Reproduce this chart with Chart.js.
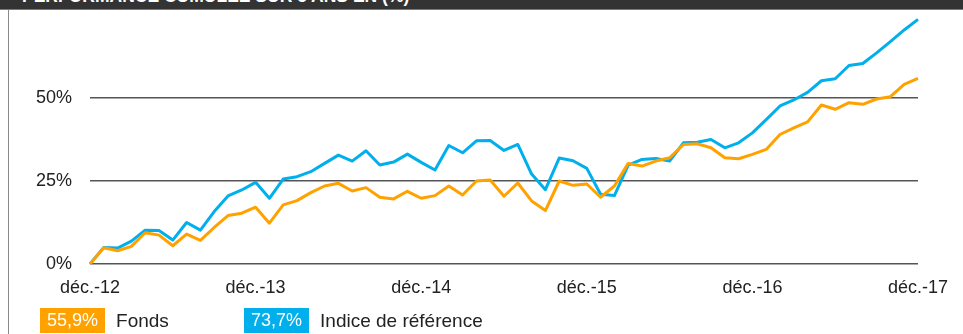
<!DOCTYPE html>
<html lang="fr">
<head>
<meta charset="utf-8">
<title>Performance cumulée sur 5 ans</title>
<script src="https://cdn.jsdelivr.net/npm/chart.js@4.4.1/dist/chart.umd.min.js"></script>
<style>
  html, body { margin: 0; padding: 0; background: #fff; }
  #wrap { position: relative; width: 963px; height: 334px; overflow: hidden; font-family: "Liberation Sans", Arial, sans-serif; }
  #head { position: absolute; left: 0; top: 0; width: 963px; height: 9px; background: #333; overflow: hidden; }
  #head span { position: absolute; left: 22px; top: -12px; line-height: 17px; font-size: 17.5px; font-weight: bold; color: #fff; white-space: nowrap; }
  #headLine { position: absolute; left: 0; top: 9px; width: 963px; height: 1px; background: #7a7a7a; }
  #leftLine { position: absolute; left: 8px; top: 10px; width: 1px; height: 324px; background: #8a8a8a; }
  #chart { position: absolute; left: 0; top: 0; }
  .leg { position: absolute; top: 308px; height: 25px; font-size: 18px; color: #222; }
  .leg b { display: inline-block; height: 25px; line-height: 25px; padding: 0 7px 0 7px; font-weight: normal; color: #fff; vertical-align: top; }
  .leg i { font-style: normal; font-size: 19px; line-height: 25px; margin-left: 11px; vertical-align: top; }
</style>
</head>
<body>
<div id="wrap">
  <canvas id="chart" width="963" height="334"></canvas>
  <div id="head"><span>PERFORMANCE CUMULÉE SUR 5 ANS EN (%)</span></div>
  <div id="headLine"></div>
  <div id="leftLine"></div>
  <div class="leg" id="legFonds" style="left:40px"></div>
  <div class="leg" id="legIndice" style="left:244px"></div>
</div>
<script>
// cumulative performance in %, one point per month, déc. 2012 -> déc. 2017
var fonds = [
  0, 4.9, 4.0, 5.3, 9.4, 8.7, 5.5, 9.0, 7.1, 11.0,
  14.6, 15.3, 17.1, 12.3, 17.8, 19.1, 21.5, 23.5, 24.3, 22.0,
  23.0, 20.1, 19.6, 21.9, 19.8, 20.6, 23.5, 20.8, 25.0, 25.3,
  20.4, 24.4, 19.0, 16.1, 25.0, 23.7, 24.1, 20.1, 23.5, 30.3,
  29.5, 31.0, 32.0, 36.0, 36.2, 35.0, 32.0, 31.7, 33.0, 34.5,
  39.0, 41.0, 42.8, 47.9, 46.6, 48.6, 48.1, 49.7, 50.4, 54.1,
  55.9
];
var indice = [
  0, 5.0, 4.8, 6.9, 10.2, 10.1, 7.2, 12.5, 10.2, 15.8,
  20.5, 22.3, 24.6, 19.8, 25.6, 26.3, 27.8, 30.3, 32.8, 31.0,
  34.1, 29.8, 30.7, 33.1, 30.6, 28.3, 35.7, 33.5, 37.1, 37.2,
  34.2, 36.0, 27.1, 22.4, 31.9, 31.1, 28.8, 21.0, 20.6, 29.8,
  31.5, 31.8, 31.0, 36.5, 36.7, 37.5, 35.0, 36.5, 39.5, 43.5,
  47.6, 49.4, 51.7, 55.2, 55.8, 59.8, 60.4, 63.6, 67.0, 70.5,
  73.7
];
var seriesNames = ['Fonds', 'Indice de référence'];
var seriesColors = ['#FFA200', '#00AFEC'];
var monthNames = ['janv.', 'févr.', 'mars', 'avr.', 'mai', 'juin', 'juil.', 'août', 'sept.', 'oct.', 'nov.', 'déc.'];
var yTicks = [0, 25, 50];

// month labels starting at déc.-12
var months = [];
for (var i = 0; i < fonds.length; i++) {
  var m = (11 + i) % 12;
  var yr = 12 + Math.floor((11 + i) / 12);
  months.push(monthNames[m] + '-' + yr);
}

function pct(v) {
  return v.toFixed(1).replace('.', ',') + '%';
}

// legend boxes show the last value of each series
var legIds = ['legFonds', 'legIndice'];
[fonds, indice].forEach(function (s, k) {
  var el = document.getElementById(legIds[k]);
  el.innerHTML = '<b style="background:' + seriesColors[k] + '">' + pct(s[s.length - 1]) + '</b><i>' + seriesNames[k] + '</i>';
});

var font = { family: '"Liberation Sans", Arial, sans-serif', size: 18 };

new Chart(document.getElementById('chart'), {
  type: 'line',
  data: {
    labels: months,
    datasets: [{
      label: seriesNames[0],
      data: fonds,
      borderColor: seriesColors[0],
      borderWidth: 3,
      pointRadius: 0,
      tension: 0,
      borderJoinStyle: 'round',
      fill: false
    }, {
      label: seriesNames[1],
      data: indice,
      borderColor: seriesColors[1],
      borderWidth: 3,
      pointRadius: 0,
      tension: 0,
      borderJoinStyle: 'round',
      fill: false
    }]
  },
  options: {
    responsive: false,
    animation: false,
    layout: { padding: { left: 0, right: 45, top: 15, bottom: 0 } },
    plugins: {
      legend: { display: false },
      tooltip: { enabled: false }
    },
    scales: {
      x: {
        offset: false,
        border: { display: false },
        grid: { display: false },
        ticks: {
          autoSkip: false,
          maxRotation: 0,
          padding: 5,
          color: '#222',
          font: font,
          callback: function (value, index) {
            return index % 12 === 0 ? this.getLabelForValue(value) : '';
          }
        },
        afterFit: function (s) {
          s.height = 70;
          s.paddingLeft = 0;
          s.paddingRight = 0;
        }
      },
      y: {
        min: 0,
        max: 75,
        border: { display: false },
        grid: { color: '#555', lineWidth: 1.5, drawTicks: false },
        ticks: {
          padding: 18,
          color: '#222',
          font: font,
          callback: function (v) { return v + '%'; }
        },
        afterBuildTicks: function (axis) {
          axis.ticks = yTicks.map(function (v) { return { value: v }; });
        },
        afterFit: function (s) {
          s.width = 90;
          s.paddingTop = 0;
          s.paddingBottom = 0;
        }
      }
    }
  }
});
</script>
</body>
</html>
